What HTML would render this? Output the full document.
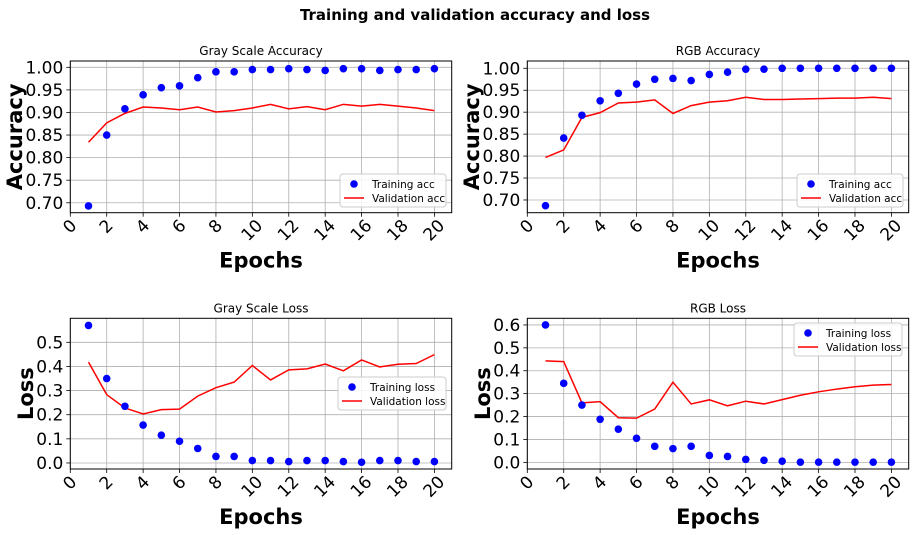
<!DOCTYPE html>
<html><head><meta charset="utf-8"><style>
body{margin:0;background:#fff;}
svg{display:block;font-family:"DejaVu Sans","Liberation Sans",sans-serif;}
</style></head><body>
<svg id="fig" width="914" height="535">
<text x="475" y="20" text-anchor="middle" font-size="15" font-weight="bold">Training and validation accuracy and loss</text>
</svg>
<script>
const epochs=[1,2,3,4,5,6,7,8,9,10,11,12,13,14,15,16,17,18,19,20];
const xTicks=[0,2,4,6,8,10,12,14,16,18,20];
const accTicks=[0.70,0.75,0.80,0.85,0.90,0.95,1.00];
const lossTicksGray=[0.0,0.1,0.2,0.3,0.4,0.5];
const lossTicksRgb=[0.0,0.1,0.2,0.3,0.4,0.5,0.6];
const grayAccTrain=[0.693,0.850,0.908,0.939,0.955,0.959,0.977,0.990,0.990,0.995,0.995,0.997,0.995,0.993,0.997,0.997,0.993,0.995,0.995,0.997];
const grayAccVal=[0.834,0.877,0.898,0.912,0.910,0.906,0.912,0.901,0.904,0.910,0.918,0.908,0.913,0.906,0.918,0.914,0.918,0.914,0.910,0.904];
const rgbAccTrain=[0.687,0.841,0.893,0.926,0.943,0.964,0.975,0.977,0.972,0.986,0.991,0.998,0.998,1,1,1,1,1,1,1];
const rgbAccVal=[0.797,0.814,0.888,0.899,0.921,0.923,0.928,0.897,0.915,0.923,0.926,0.934,0.929,0.929,0.930,0.931,0.932,0.932,0.934,0.931];
const grayLossTrain=[0.57,0.35,0.235,0.157,0.115,0.09,0.06,0.027,0.027,0.01,0.01,0.006,0.01,0.01,0.006,0.003,0.01,0.01,0.006,0.006];
const grayLossVal=[0.418,0.283,0.228,0.203,0.221,0.223,0.277,0.312,0.335,0.404,0.344,0.386,0.390,0.410,0.382,0.427,0.398,0.409,0.412,0.449];
const rgbLossTrain=[0.60,0.345,0.25,0.188,0.145,0.105,0.07,0.06,0.07,0.03,0.026,0.013,0.009,0.005,0.001,0.001,0.001,0.001,0.001,0.001];
const rgbLossVal=[0.443,0.440,0.260,0.265,0.195,0.193,0.233,0.350,0.255,0.273,0.247,0.267,0.255,0.274,0.293,0.308,0.320,0.330,0.337,0.340];

const NS="http://www.w3.org/2000/svg";
const svg=document.getElementById('fig');
function mk(tag,attrs,parent){const e=document.createElementNS(NS,tag);for(const k in attrs)e.setAttribute(k,attrs[k]);(parent||svg).appendChild(e);return e;}

function panel(o){
  const g=mk('g',{});
  
  
  const X=v=>o.L+(v-0)/(20.95)*(o.R-o.L);
  const Y=v=>o.B-(v-o.ymin)/(o.ymax-o.ymin)*(o.B-o.T);
  const fs=17;
  xTicks.forEach(t=>{
    mk('line',{x1:X(t),x2:X(t),y1:o.T,y2:o.B,stroke:'#b0b0b0','stroke-width':0.8},g);
    mk('line',{x1:X(t),x2:X(t),y1:o.B,y2:o.B+4,stroke:'#000','stroke-width':0.8},g);
    const w=String(t).length*fs*0.636, h=fs*0.73;
    const half=(w+h)*0.7071/2;
    const cy=o.B+6+half;
    const tx=mk('text',{x:X(t),y:cy,'font-size':fs,'text-anchor':'middle','dominant-baseline':'central',transform:`rotate(-45 ${X(t)} ${cy})`},g);
    tx.textContent=t;
    
    
  });
  o.yTicks.forEach(t=>{
    mk('line',{x1:o.L,x2:o.R,y1:Y(t),y2:Y(t),stroke:'#b0b0b0','stroke-width':0.8},g);
    mk('line',{x1:o.L-4,x2:o.L,y1:Y(t),y2:Y(t),stroke:'#000','stroke-width':0.8},g);
    const tx=mk('text',{x:o.L-7,y:Y(t)+6,'font-size':fs,'text-anchor':'end'},g);
    tx.textContent=t.toFixed(o.dec);
    
    
  });
  const pts=epochs.map((e,i)=>X(e)+','+Y(o.val[i])).join(' ');
  const line=mk('polyline',{points:pts,fill:'none',stroke:'#ff0000','stroke-width':1.5},g);
  
  
  epochs.forEach((e,i)=>{
    const c=mk('circle',{cx:X(e),cy:Y(o.train[i]),r:3.8,fill:'#0000ff'},g);
    
    
  });
  mk('rect',{x:o.L,y:o.T,width:o.R-o.L,height:o.B-o.T,fill:'none',stroke:'#000','stroke-width':1},g);
  const tt=mk('text',{x:(o.L+o.R)/2,y:o.T-6,'font-size':12,'text-anchor':'middle'},g);
  tt.textContent=o.title;
  
  
  const xl=mk('text',{x:(o.L+o.R)/2,y:o.B+55,'font-size':21,'font-weight':'bold','text-anchor':'middle'},g);
  xl.textContent='Epochs';
  
  
  const yc=(o.T+o.B)/2;
  const yl=mk('text',{x:o.ylx,y:yc,'font-size':21,'font-weight':'bold','text-anchor':'middle',transform:`rotate(-90 ${o.ylx} ${yc})`},g);
  yl.textContent=o.ylabel;
  
  
  const lg=mk('g',{},g);
  
  
  mk('rect',{x:o.lx,y:o.ly,width:o.lw,height:33,rx:3,fill:'#fff','fill-opacity':0.85,stroke:'#ccc'},lg);
  mk('circle',{cx:o.lx+14,cy:o.ly+10,r:3.8,fill:'#0000ff'},lg);
  mk('line',{x1:o.lx+4,x2:o.lx+24,y1:o.ly+24,y2:o.ly+24,stroke:'#ff0000','stroke-width':1.5},lg);
  const l1=mk('text',{x:o.lx+32,y:o.ly+14,'font-size':10.5},lg);l1.textContent=o.leg[0];
  const l2=mk('text',{x:o.lx+32,y:o.ly+28,'font-size':10.5},lg);l2.textContent=o.leg[1];
}
panel({name:'gray-accuracy-chart',L:70.3,R:451.7,T:61,B:212.7,ymin:0.678,ymax:1.014,yTicks:accTicks,dec:2,train:grayAccTrain,val:grayAccVal,title:'Gray Scale Accuracy',ylabel:'Accuracy',ylx:22,lx:340,ly:174,lw:106,leg:['Training acc','Validation acc']});
panel({name:'rgb-accuracy-chart',L:527.3,R:908.7,T:61,B:212.7,ymin:0.671,ymax:1.0166,yTicks:accTicks,dec:2,train:rgbAccTrain,val:rgbAccVal,title:'RGB Accuracy',ylabel:'Accuracy',ylx:479,lx:797,ly:174,lw:106,leg:['Training acc','Validation acc']});
panel({name:'gray-loss-chart',L:70.3,R:451.7,T:318.3,B:469,ymin:-0.025,ymax:0.5995,yTicks:lossTicksGray,dec:1,train:grayLossTrain,val:grayLossVal,title:'Gray Scale Loss',ylabel:'Loss',ylx:33,lx:338,ly:377,lw:108,leg:['Training loss','Validation loss']});
panel({name:'rgb-loss-chart',L:527.3,R:908.7,T:318.3,B:469,ymin:-0.029,ymax:0.629,yTicks:lossTicksRgb,dec:1,train:rgbLossTrain,val:rgbLossVal,title:'RGB Loss',ylabel:'Loss',ylx:490,lx:794,ly:323,lw:108,leg:['Training loss','Validation loss']});
</script>
</body></html>
